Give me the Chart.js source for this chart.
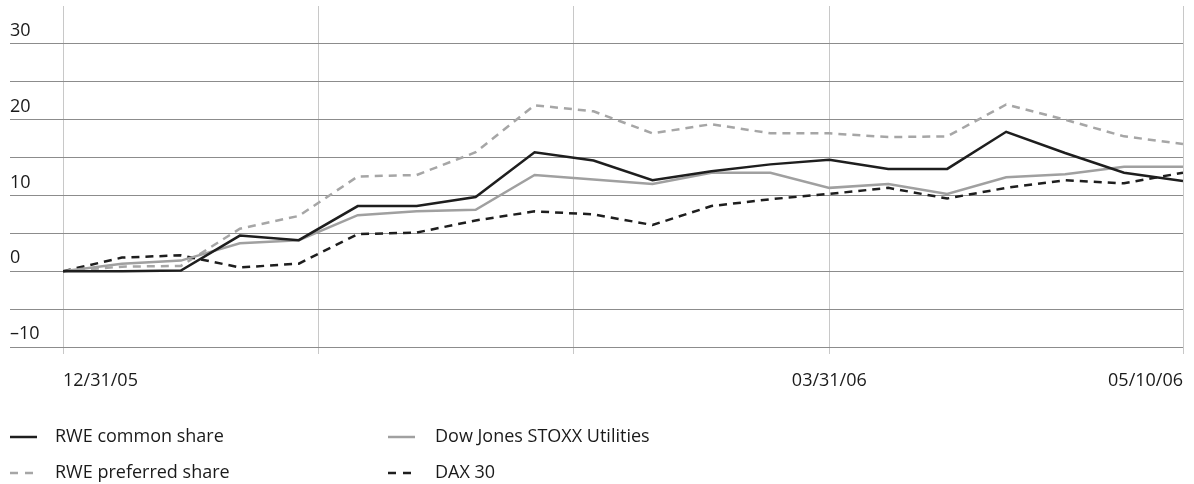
<!DOCTYPE html>
<html><head><meta charset="utf-8">
<script src="https://cdn.jsdelivr.net/npm/chart.js@4/dist/chart.umd.min.js"></script>
<style>html,body{margin:0;padding:0;background:#fff}#wrap{width:1194px;height:484px;position:relative}</style>
</head><body><div id="wrap"><canvas id="c" width="1194" height="484"></canvas></div>
<script>
// Weekly performance in %
const rweCommon    = [0, 0, 0.1, 4.7, 4.1, 8.6, 8.6, 9.8, 15.7, 14.6, 12.0, 13.2, 14.1, 14.7, 13.5, 13.5, 18.4, 15.6, 13.0, 11.9];
const rwePreferred = [0, 0.6, 0.7, 5.6, 7.3, 12.5, 12.7, 15.7, 21.9, 21.1, 18.2, 19.4, 18.2, 18.2, 17.7, 17.8, 22.0, 20.0, 17.8, 16.8];
const djStoxxUtil  = [0, 1.0, 1.4, 3.7, 4.1, 7.4, 7.9, 8.1, 12.7, 12.1, 11.5, 13.0, 13.0, 11.0, 11.5, 10.2, 12.4, 12.8, 13.8, 13.8];
const dax30        = [0, 1.8, 2.1, 0.5, 1.0, 4.9, 5.1, 6.7, 7.9, 7.5, 6.1, 8.6, 9.5, 10.2, 11.0, 9.6, 11.0, 12.0, 11.6, 13.0];
const seriesNames  = ['RWE common share', 'RWE preferred share', 'Dow Jones STOXX Utilities', 'DAX 30'];
// week index -> date label on the x axis
const xTickLabels  = {0: '12/31/05', 13: '03/31/06', 19: '05/10/06'};
// month-end positions (in weeks) for vertical grid lines
const monthGridPositions = [0, 13/3, 26/3, 13, 19];
const yLabelValues = [30, 20, 10, 0, -10];

const weekIndex = rweCommon.map((_, i) => i);
const FONT = {family: "'Open Sans', sans-serif", size: 18};
const TXT = '#1a1a1a';
const BLACK = '#1e1e1e', GREY = '#a0a0a0';

const legendPlugin = {
  id: 'gridLegend',
  afterDraw(chart) {
    const ctx = chart.ctx;
    const cols = [{line: 10, text: 55}, {line: 388, text: 435}];
    const rows = [437, 473];
    const layout = [[0, 0], [0, 1], [1, 0], [1, 1]]; // [col,row] per dataset
    chart.data.datasets.forEach((ds, i) => {
      const c = cols[layout[i][0]], y = rows[layout[i][1]];
      ctx.save();
      ctx.strokeStyle = ds.borderColor;
      ctx.lineWidth = 2.5;
      ctx.setLineDash(ds.borderDash && ds.borderDash.length ? [8, 7] : []);
      ctx.beginPath();
      ctx.moveTo(c.line, y); ctx.lineTo(c.line + 27, y);
      ctx.stroke();
      ctx.setLineDash([]);
      ctx.fillStyle = TXT;
      ctx.font = FONT.size + 'px ' + FONT.family;
      ctx.textBaseline = 'middle';
      ctx.textAlign = 'left';
      ctx.fillText(ds.label, c.text, y);
      ctx.restore();
    });
  }
};

new Chart(document.getElementById('c'), {
  type: 'line',
  data: {
    labels: weekIndex,
    datasets: [
      {label: seriesNames[0], data: rweCommon, borderColor: BLACK, borderWidth: 2.5, borderDash: [], order: 0},
      {label: seriesNames[1], data: rwePreferred, borderColor: '#a6a6a6', borderWidth: 2.5, borderDash: [8, 6], order: 3},
      {label: seriesNames[2], data: djStoxxUtil, borderColor: GREY, borderWidth: 2.5, borderDash: [], order: 1},
      {label: seriesNames[3], data: dax30, borderColor: BLACK, borderWidth: 2.5, borderDash: [8, 6], order: 2}
    ]
  },
  options: {
    responsive: false,
    devicePixelRatio: 1,
    animation: false,
    layout: {padding: {left: 10, top: 6, right: 11, bottom: 94}},
    elements: {point: {radius: 0, hoverRadius: 0}, line: {tension: 0, borderJoinStyle: 'miter', borderCapStyle: 'butt'}},
    plugins: {legend: {display: false}, tooltip: {enabled: false}},
    scales: {
      x: {
        type: 'linear', min: 0, max: 19,
        afterBuildTicks: s => { s.ticks = monthGridPositions.map(v => ({value: v})); },
        afterFit: s => { s.height = 43; s.paddingLeft = 0; s.paddingRight = 0; },
        grid: {color: '#c8c8c8', lineWidth: 1, tickLength: 7, drawTicks: true},
        border: {display: false},
        ticks: {
          align: 'inner', padding: 16, font: FONT, color: TXT, autoSkip: false, maxRotation: 0,
          callback: v => (xTickLabels[v] !== undefined ? xTickLabels[v] : '')
        }
      },
      y: {
        min: -10, max: 35,
        afterFit: s => { s.width = 53; s.paddingTop = 0; s.paddingBottom = 0; },
        grid: {
          color: c => (c.tick && c.tick.value === 35 ? 'rgba(0,0,0,0)' : '#8c8c8c'),
          lineWidth: 1, tickLength: 53, drawTicks: true
        },
        border: {display: false},
        ticks: {
          stepSize: 5, crossAlign: 'far', labelOffset: -13, padding: 0, font: FONT, color: TXT,
          callback: v => (yLabelValues.includes(v) ? (v < 0 ? '\u2013' + Math.abs(v) : String(v)) : '')
        }
      }
    }
  },
  plugins: [legendPlugin]
});
</script></body></html>
